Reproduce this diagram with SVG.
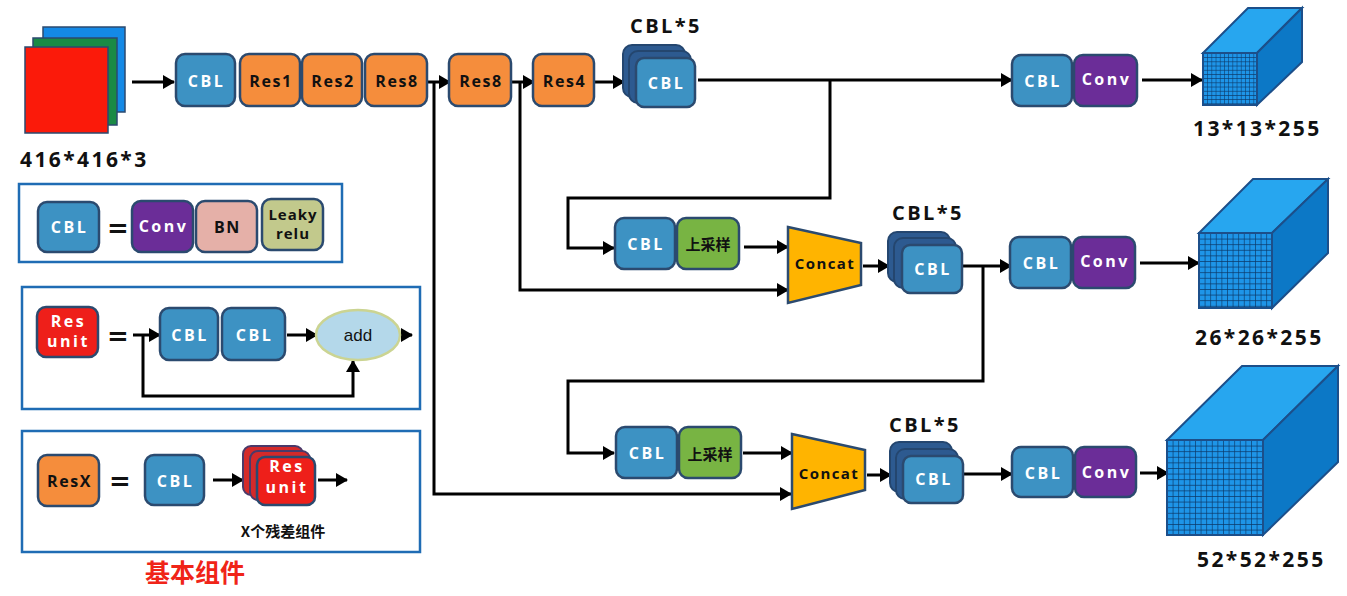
<svg xmlns="http://www.w3.org/2000/svg" width="1347" height="596" viewBox="0 0 1347 596">
<defs>
<style>
.bx{stroke:#2b4a6f;stroke-width:2.5}
.cbl{fill:#3d92c3}
.res{fill:#f58d3c}
.conv{fill:#6b2d98}
.bn{fill:#e5b0a8}
.lk{fill:#c2c98c}
.up{fill:#78b443}
.ru{fill:#ee1f1a}
.dk{fill:#2d5a90;stroke:#24466f;stroke-width:2}
.rdk{fill:#d42a2a;stroke:#4a3a6a;stroke-width:2}
.tw{fill:#fff;font-family:"Open Sans","DejaVu Sans",sans-serif;font-weight:700;font-size:16px;letter-spacing:2.5px;text-anchor:middle;dominant-baseline:central}
.tb{fill:#111;font-family:"Open Sans","DejaVu Sans",sans-serif;font-weight:700;font-size:16px;letter-spacing:1.6px;text-anchor:middle;dominant-baseline:central}
.big{fill:#111;font-family:"Open Sans","DejaVu Sans",sans-serif;font-weight:700;font-size:21px;letter-spacing:2.4px}
.eq{fill:#111;font-family:"DejaVu Sans",sans-serif;font-weight:700;font-size:26px;text-anchor:middle;dominant-baseline:central}
.cn{fill:#111;font-family:"Noto Sans CJK SC",sans-serif;font-weight:700;font-size:15px;text-anchor:middle;dominant-baseline:central}
.lg{fill:none;stroke:#1f6cb4;stroke-width:2.5}
.ln{fill:none;stroke:#000;stroke-width:3;marker-end:url(#ah)}
.front{stroke:#1c4f8a;stroke-width:2}
.top{fill:#27a6ef;stroke:#1c4f8a;stroke-width:2}
.side{fill:#0c78c6;stroke:#1c4f8a;stroke-width:2}
</style>
<marker id="ah" markerWidth="12" markerHeight="14" refX="11" refY="7" orient="auto" markerUnits="userSpaceOnUse">
<path d="M0,0 L12,7 L0,14 Z" fill="#000"/>
</marker>
<pattern id="g1" patternUnits="userSpaceOnUse" width="4.2" height="4.2" x="1203" y="53">
<rect width="4.2" height="4.2" fill="#1e95e8"/>
<path d="M0,0 H4.2 M0,0 V4.2" stroke="#0b3766" stroke-width="1.1"/>
</pattern>
<pattern id="g2" patternUnits="userSpaceOnUse" width="5.6" height="5.6" x="1199" y="233">
<rect width="5.6" height="5.6" fill="#1e95e8"/>
<path d="M0,0 H5.6 M0,0 V5.6" stroke="#0b3766" stroke-width="1.3"/>
</pattern>
<pattern id="g3" patternUnits="userSpaceOnUse" width="5.6" height="5.6" x="1167" y="440">
<rect width="5.6" height="5.6" fill="#1e95e8"/>
<path d="M0,0 H5.6 M0,0 V5.6" stroke="#0b3766" stroke-width="1.3"/>
</pattern>
</defs>
<rect width="1347" height="596" fill="#fff"/>

<g id="connectors">
<path class="ln" d="M132 82 H174"/>
<path class="ln" d="M428 82 H450"/>
<path class="ln" d="M511 82 H534"/>
<path class="ln" d="M594 82 H624"/>
<path class="ln" d="M698 80 H1012"/>
<path class="ln" d="M1142 80 H1202"/>
<path class="ln" d="M830 80 V198 H568 V248 H614"/>
<path class="ln" d="M434 82 V494 H791"/>
<path class="ln" d="M520 82 V290 H788"/>
<path class="ln" d="M744 247 H788"/>
<path class="ln" d="M863 266 H889"/>
<path class="ln" d="M962 266 H1011"/>
<path class="ln" d="M983 266 V381 H568 V453 H614"/>
<path class="ln" d="M743 453 H792"/>
<path class="ln" d="M867 475 H891"/>
<path class="ln" d="M963 474 H1012"/>
<path class="ln" d="M1140 263 H1199"/>
<path class="ln" d="M1140 473 H1168"/>
<path class="ln" d="M133 335 H160"/>
<path class="ln" d="M287 335 H317"/>
<path class="ln" d="M385 335 H412"/>
<path class="ln" d="M143 335 V396 H353 V361"/>
<path class="ln" d="M213 480 H243"/>
<path class="ln" d="M318 480 H347"/>
</g>

<g id="input">
<rect x="43" y="27" width="82" height="85" fill="#1489e6" stroke="#2b4a6f" stroke-width="1.5"/>
<rect x="33" y="38" width="84" height="87" fill="#1a8a45" stroke="#2b4a6f" stroke-width="1.5"/>
<rect x="25" y="47" width="83" height="86" fill="#fb1a0a" stroke="#2b4a6f" stroke-width="1.5"/>
<text class="big" x="20" y="167">416*416*3</text>
</g>

<g id="cbl1"><rect class="bx cbl" x="176" y="54" width="59" height="52" rx="9"/><text class="tw" x="206.5" y="81">CBL</text></g>
<g id="res1"><rect class="bx res" x="240" y="54" width="60" height="52" rx="9"/><text class="tb" x="271" y="81">Res1</text></g>
<g id="res2"><rect class="bx res" x="302" y="54" width="60" height="52" rx="9"/><text class="tb" x="333" y="81">Res2</text></g>
<g id="res8a"><rect class="bx res" x="365" y="54" width="62" height="52" rx="9"/><text class="tb" x="397" y="81">Res8</text></g>
<g id="res8b"><rect class="bx res" x="449" y="54" width="62" height="52" rx="9"/><text class="tb" x="481" y="81">Res8</text></g>
<g id="res4"><rect class="bx res" x="533" y="54" width="61" height="52" rx="9"/><text class="tb" x="564.5" y="81">Res4</text></g>

<g id="cbl5-top">
<text class="big" x="666" y="33" text-anchor="middle" style="font-size:20px">CBL*5</text>
<rect class="dk" x="623" y="45" width="62" height="52" rx="9"/>
<rect class="dk" x="629" y="51" width="62" height="52" rx="9"/>
<rect class="bx cbl" x="636" y="58" width="59" height="49" rx="8"/>
<text class="tw" x="666.5" y="83">CBL</text>
</g>

<g id="head1">
<rect class="bx cbl" x="1012" y="55" width="60" height="51" rx="9"/><text class="tw" x="1043" y="81">CBL</text>
<rect class="bx conv" x="1074" y="55" width="63" height="51" rx="9"/><text class="tw" x="1106.5" y="79">Conv</text>
</g>
<g id="cube1">
<polygon class="top" points="1203,53 1248,8 1302,8 1257,53"/>
<polygon class="side" points="1257,53 1302,8 1302,62 1257,105"/>
<rect class="front" x="1203" y="53" width="54" height="52" fill="url(#g1)"/>
<text class="big" x="1193" y="136">13*13*255</text>
</g>

<g id="mid-upsample">
<rect class="bx cbl" x="615" y="218" width="60" height="51" rx="9"/><text class="tw" x="646" y="244">CBL</text>
<rect class="bx up" x="677" y="218" width="62" height="51" rx="9"/><text class="cn" x="708" y="243">上采样</text>
</g>
<g id="concat1">
<polygon points="788,227 861,243 861,285 788,303" fill="#ffb400" stroke="#2b4a6f" stroke-width="2.5"/>
<text class="tb" x="825" y="263" style="font-size:15px;letter-spacing:1.4px">Concat</text>
</g>
<g id="cbl5-mid">
<text class="big" x="928" y="220" text-anchor="middle" style="font-size:20px">CBL*5</text>
<rect class="dk" x="888" y="232" width="62" height="50" rx="9"/>
<rect class="dk" x="894" y="238" width="62" height="50" rx="9"/>
<rect class="bx cbl" x="902" y="245" width="60" height="48" rx="8"/>
<text class="tw" x="933" y="269">CBL</text>
</g>
<g id="head2">
<rect class="bx cbl" x="1010" y="237" width="61" height="51" rx="9"/><text class="tw" x="1041.5" y="263">CBL</text>
<rect class="bx conv" x="1073" y="237" width="62" height="51" rx="9"/><text class="tw" x="1105" y="261">Conv</text>
</g>
<g id="cube2">
<polygon class="top" points="1199,233 1253,179 1328,179 1272,233"/>
<polygon class="side" points="1272,233 1328,179 1328,253 1272,308"/>
<rect class="front" x="1199" y="233" width="73" height="75" fill="url(#g2)"/>
<text class="big" x="1195" y="345">26*26*255</text>
</g>

<g id="low-upsample">
<rect class="bx cbl" x="616" y="427" width="61" height="51" rx="9"/><text class="tw" x="647.5" y="453">CBL</text>
<rect class="bx up" x="679" y="427" width="62" height="51" rx="9"/><text class="cn" x="710" y="453">上采样</text>
</g>
<g id="concat2">
<polygon points="792,434 865,450 865,490 792,509" fill="#ffb400" stroke="#2b4a6f" stroke-width="2.5"/>
<text class="tb" x="829" y="473" style="font-size:15px;letter-spacing:1.4px">Concat</text>
</g>
<g id="cbl5-low">
<text class="big" x="925" y="432" text-anchor="middle" style="font-size:20px">CBL*5</text>
<rect class="dk" x="890" y="442" width="62" height="50" rx="9"/>
<rect class="dk" x="896" y="449" width="62" height="50" rx="9"/>
<rect class="bx cbl" x="903" y="456" width="60" height="47" rx="8"/>
<text class="tw" x="934" y="479">CBL</text>
</g>
<g id="head3">
<rect class="bx cbl" x="1012" y="447" width="61" height="50" rx="9"/><text class="tw" x="1043.5" y="473">CBL</text>
<rect class="bx conv" x="1075" y="447" width="61" height="50" rx="9"/><text class="tw" x="1106.5" y="472">Conv</text>
</g>
<g id="cube3">
<polygon class="top" points="1167,440 1242,366 1338,366 1263,440"/>
<polygon class="side" points="1263,440 1338,366 1338,462 1263,535"/>
<rect class="front" x="1167" y="440" width="96" height="95" fill="url(#g3)"/>
<text class="big" x="1197" y="567">52*52*255</text>
</g>

<g id="legend-cbl">
<rect class="lg" x="19" y="184" width="323" height="78"/>
<rect class="bx cbl" x="38" y="202" width="61" height="50" rx="9"/><text class="tw" x="69.5" y="227">CBL</text>
<text class="eq" x="118" y="228">=</text>
<rect class="bx conv" x="132" y="201" width="61" height="51" rx="9"/><text class="tw" x="163.5" y="226">Conv</text>
<rect class="bx bn" x="196" y="201" width="61" height="51" rx="9"/><text class="tb" x="227.5" y="227">BN</text>
<rect class="bx lk" x="262" y="199" width="61" height="51" rx="9"/>
<text class="tb" x="293" y="214" style="font-size:15px;letter-spacing:1px">Leaky</text>
<text class="tb" x="293" y="233" style="font-size:15px;letter-spacing:1px">relu</text>
</g>

<g id="legend-resunit">
<rect class="lg" x="22" y="287" width="398" height="122"/>
<rect class="bx ru" x="37" y="307" width="61" height="50" rx="9"/>
<text class="tw" x="68.5" y="321">Res</text><text class="tw" x="68.5" y="341">unit</text>
<text class="eq" x="118" y="336">=</text>
<rect class="bx cbl" x="160" y="308" width="58" height="52" rx="9"/><text class="tw" x="190" y="335">CBL</text>
<rect class="bx cbl" x="222" y="308" width="63" height="52" rx="9"/><text class="tw" x="254.5" y="335">CBL</text>
<ellipse cx="358" cy="335" rx="42" ry="25" fill="#b4d8ea" stroke="#cbd492" stroke-width="2.5"/>
<text x="358" y="335" fill="#111" font-family="Liberation Sans, Arial, sans-serif" font-size="17" text-anchor="middle" dominant-baseline="central">add</text>
</g>

<g id="legend-resx">
<rect class="lg" x="22" y="431" width="398" height="121"/>
<rect class="bx res" x="38" y="455" width="61" height="51" rx="9"/><text class="tb" x="69.5" y="481">ResX</text>
<text class="eq" x="120" y="481">=</text>
<rect class="bx cbl" x="145" y="455" width="59" height="50" rx="9"/><text class="tw" x="175.5" y="481">CBL</text>
<rect class="rdk" x="243" y="446" width="60" height="49" rx="8"/>
<rect class="rdk" x="250" y="451" width="60" height="49" rx="8"/>
<rect class="bx ru" x="257" y="457" width="58" height="48" rx="8"/>
<text class="tw" x="287" y="466">Res</text><text class="tw" x="287" y="487">unit</text>
<text class="cn" x="283" y="530" style="font-size:15px">X个残差组件</text>
</g>

<text x="195" y="582" fill="#f02418" font-family="Noto Sans CJK SC, sans-serif" font-weight="700" font-size="25" text-anchor="middle">基本组件</text>
</svg>
